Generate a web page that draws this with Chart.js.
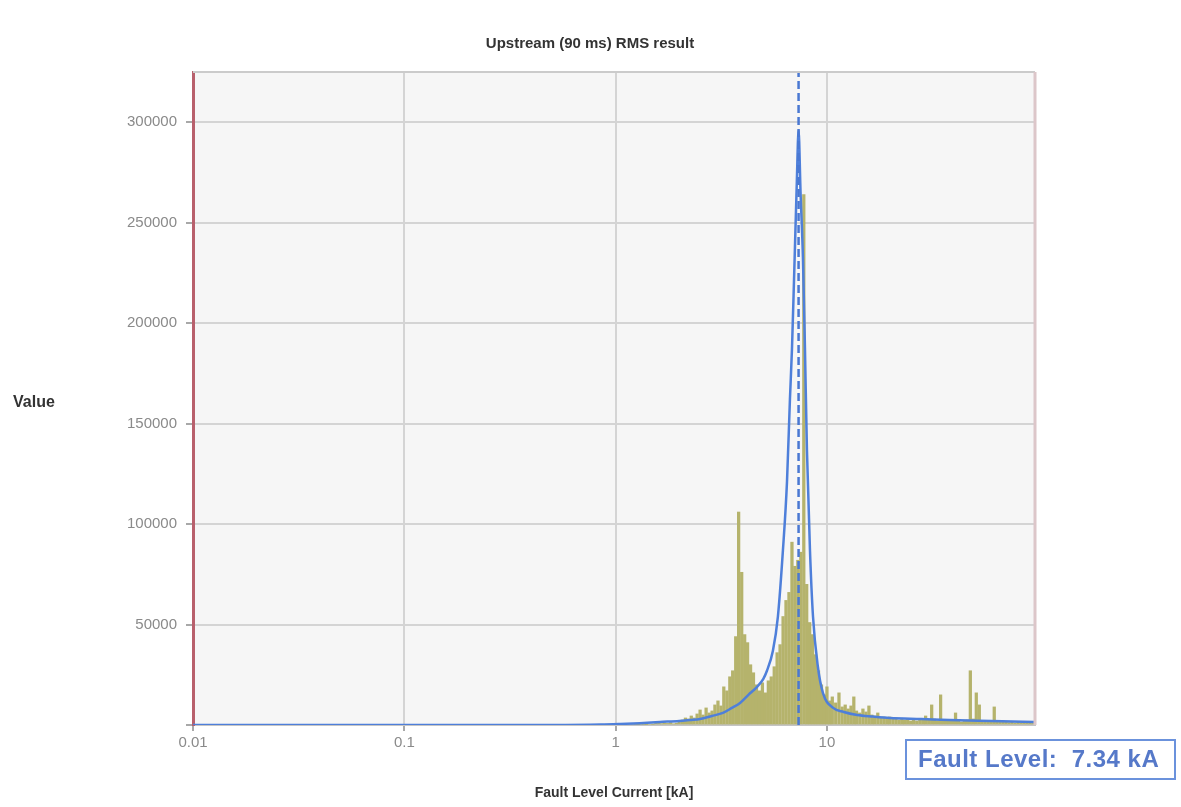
<!DOCTYPE html>
<html>
<head>
<meta charset="utf-8">
<title>Upstream (90 ms) RMS result</title>
<script src="https://cdn.jsdelivr.net/npm/chart.js@4.4.0/dist/chart.umd.min.js"></script>
<style>
  html, body { margin: 0; padding: 0; background: #fff; }
  #chart { display: block; }
</style>
</head>
<body>
<canvas id="chart" width="1181" height="807"></canvas>
<script>
const chartTitle = "Upstream (90 ms) RMS result";
const xTitle = "Fault Level Current [kA]";
const yTitle = "Value";

const faultLevel = 7.34; // kA

// histogram bins (kA) and their counts
const binKA = [
  1.20, 1.24, 1.28, 1.32, 1.36, 1.40, 1.45, 1.50, 1.55, 1.60,
  1.65, 1.70, 1.76, 1.82, 1.88, 1.94, 2.00, 2.07, 2.14, 2.21,
  2.28, 2.35, 2.43, 2.51, 2.59, 2.68, 2.77, 2.86, 2.95, 3.05,
  3.15, 3.25, 3.36, 3.47, 3.58, 3.70, 3.82, 3.95, 4.08, 4.21,
  4.35, 4.49, 4.64, 4.79, 4.95, 5.11, 5.28, 5.45, 5.63, 5.81,
  6.00, 6.20, 6.40, 6.61, 6.83, 7.05, 7.28, 7.52, 7.77, 8.02,
  8.28, 8.55, 8.83, 9.12, 9.42, 9.73,
  10.0, 10.3, 10.6, 11.0, 11.4, 11.8, 12.2, 12.6, 13.0, 13.4,
  13.8, 14.3, 14.8, 15.3, 15.8, 16.3, 16.8, 17.4, 18.0, 18.6,
  19.2, 19.8, 20.5, 21.2, 21.9, 22.6, 23.3, 24.1, 24.9, 25.7,
  26.6, 27.5, 28.4, 29.3, 30.3, 31.3, 32.3, 33.4, 34.5, 35.6,
  36.8, 38.0, 39.3, 40.6, 41.9, 43.3, 44.7, 46.2, 47.7, 49.3,
  50.9, 52.6, 54.3, 56.1, 58.0, 59.9, 61.9, 63.9, 66.0, 68.2,
  70.4, 72.7, 75.1, 77.6, 80.2, 82.8, 85.5, 88.3, 91.2, 94.2
];
const binCount = [
  800, 300, 200, 400, 300, 200, 500, 300, 900, 1000,
  700, 1100, 800, 1200, 600, 900, 1500, 2500, 3500, 3000,
  4500, 3500, 5500, 7500, 5000, 8500, 6000, 7000, 10000, 12000,
  9500, 19000, 17000, 24000, 27000, 44000, 106000, 76000, 45000, 41000,
  30000, 26000, 20000, 17000, 21000, 16000, 22000, 24000, 29000, 36000,
  40000, 54000, 62000, 66000, 91000, 79000, 82000, 86000, 264000, 70000,
  51000, 45000, 35000, 27000, 20000, 15000,
  19000, 12000, 14000, 11000, 16000, 9000, 10000, 8000, 9500, 14000,
  7000, 6000, 8000, 6500, 9500, 5000, 4500, 6000, 3500, 4000,
  3500, 4000, 3000, 3500, 2500, 3000, 2500, 3000, 2000, 2500,
  2000, 2500, 3000, 4500, 2500, 10000, 3000, 2000, 15000, 2500,
  2000, 2500, 2000, 6000, 2000, 1500, 2000, 2500, 27000, 3000,
  16000, 10000, 2000, 1500, 2000, 1500, 9000, 2000, 1500, 2000,
  1500, 1200, 1500, 1000, 1300, 1000, 1200, 900, 1100, 800
];

// fitted distribution curve
const curveKA = [
  0.01, 0.5, 0.85, 1.05, 1.3, 1.62, 2.0, 2.25, 2.51, 2.85,
  3.22, 3.55, 3.88, 4.25, 4.67, 5.0, 5.2, 5.55, 5.86, 6.19,
  6.47, 6.68, 6.83, 7.0, 7.2, 7.34, 7.5, 7.7, 7.87, 8.04,
  8.31, 8.59, 9.06, 9.57, 10.7, 12, 13.9, 16.5, 19.9, 28,
  38, 60, 96.5
];
const curveValue = [
  0, 0, 200, 500, 900, 1500, 2000, 2500, 3000, 4500,
  6000, 8500, 11000, 15000, 19000, 23000, 27000, 37000, 54000, 87000,
  121000, 162000, 187000, 225000, 270000, 296000, 265000, 232000, 187000, 137000,
  87000, 54000, 29000, 16000, 8500, 6500, 5000, 4200, 3500, 3000,
  2500, 2000, 1500
];

const xMin = 0.01;
const xMax = 96.5;
const yMax = 325000;
const xTickValues = [0.01, 0.1, 1, 10];
const yTickValues = [0, 50000, 100000, 150000, 200000, 250000, 300000];

const fontFamily = "'Liberation Sans', Arial, Helvetica, sans-serif";

const decorations = {
  id: "decorations",
  beforeDraw(chart) {
    const { ctx, chartArea: a } = chart;
    ctx.save();
    ctx.fillStyle = "#ffffff";
    ctx.fillRect(0, 0, chart.width, chart.height);
    ctx.fillStyle = "#f6f6f6";
    ctx.fillRect(a.left, a.top, a.right - a.left, a.bottom - a.top);
    ctx.restore();
  },
  afterDraw(chart) {
    const { ctx, chartArea: a } = chart;
    ctx.save();

    // frame on top and right
    ctx.lineWidth = 2;
    ctx.strokeStyle = "#cbcbcb";
    ctx.beginPath();
    ctx.moveTo(a.left, a.top);
    ctx.lineTo(a.right, a.top);
    ctx.stroke();
    ctx.lineWidth = 3;
    ctx.strokeStyle = "#dcc6c9";
    ctx.beginPath();
    ctx.moveTo(a.right, a.top);
    ctx.lineTo(a.right, a.bottom);
    ctx.stroke();

    // chart title and y title
    ctx.fillStyle = "#333333";
    ctx.font = "bold 15px " + fontFamily;
    ctx.textBaseline = "middle";
    ctx.textAlign = "center";
    ctx.fillText(chartTitle, 590, 44);
    ctx.textAlign = "left";
    ctx.font = "bold 16px " + fontFamily;
    ctx.fillText(yTitle, 13, 403);

    // fault level box
    ctx.fillStyle = "#ffffff";
    ctx.fillRect(906, 740, 269, 39);
    ctx.lineWidth = 2;
    ctx.strokeStyle = "#6b92dc";
    ctx.strokeRect(906, 740, 269, 39);
    ctx.fillStyle = "#5679c9";
    ctx.font = "bold 24px " + fontFamily;
    ctx.letterSpacing = "0.5px";
    ctx.fillText("Fault Level:  " + faultLevel.toFixed(2) + " kA", 918, 760);

    ctx.restore();
  }
};

const ctx = document.getElementById("chart").getContext("2d");

const chart = new Chart(ctx, {
  type: "bar",
  data: {
    datasets: [
      {
        type: "line",
        label: "Fault level",
        data: [{ x: faultLevel, y: 0 }, { x: faultLevel, y: yMax }],
        borderColor: "#4a78d2",
        borderWidth: 2.5,
        borderDash: [8, 4],
        pointRadius: 0,
        fill: false,
        order: 1,
      },
      {
        type: "line",
        label: "Distribution",
        data: curveKA.map((x, i) => ({ x: x, y: curveValue[i] })),
        borderColor: "#4e7fda",
        borderWidth: 2.5,
        pointRadius: 0,
        fill: false,
        cubicInterpolationMode: "monotone",
        order: 2,
      },
      {
        type: "bar",
        label: "Count",
        data: binKA.map((x, i) => ({ x: x, y: binCount[i] })),
        backgroundColor: "#b5b36c",
        borderWidth: 0,
        barThickness: 2.6,
        order: 3,
      },
    ],
  },
  options: {
    responsive: false,
    animation: false,
    devicePixelRatio: 1,
    layout: {
      padding: { top: 72, right: 146, left: 0, bottom: 0 },
    },
    plugins: {
      legend: { display: false },
      tooltip: { enabled: false },
      title: { display: false },
    },
    scales: {
      x: {
        type: "logarithmic",
        min: xMin,
        max: xMax,
        offset: false,
        afterFit(scale) {
          scale.height = 82;
        },
        afterBuildTicks(scale) {
          scale.ticks = xTickValues.map((v) => ({ value: v }));
        },
        ticks: {
          color: "#8a8a8a",
          font: { family: fontFamily, size: 15 },
          padding: 3,
          autoSkip: false,
          maxRotation: 0,
          callback: (v) => String(v),
        },
        grid: {
          color: "#d4d4d4",
          lineWidth: 2,
          offset: false,
          tickLength: 6,
          tickColor: "#a8a8a8",
        },
        border: { color: "#c4c4c4", width: 2 },
        title: {
          display: true,
          text: xTitle,
          color: "#333333",
          font: { family: fontFamily, size: 14, weight: "bold" },
          padding: { top: 0, bottom: 5 },
        },
      },
      y: {
        type: "linear",
        min: 0,
        max: yMax,
        afterFit(scale) {
          scale.width = 193;
        },
        afterBuildTicks(scale) {
          scale.ticks = yTickValues.map((v) => ({ value: v }));
        },
        ticks: {
          color: "#8a8a8a",
          font: { family: fontFamily, size: 15 },
          padding: 9,
          callback: (v) => (v === 0 ? "" : String(v)),
        },
        grid: {
          color: "#d4d4d4",
          lineWidth: 2,
          tickLength: 7,
          tickColor: "#a8a8a8",
        },
        border: { color: "#b8606c", width: 3 },
      },
    },
  },
  plugins: [decorations],
});
</script>
</body>
</html>
